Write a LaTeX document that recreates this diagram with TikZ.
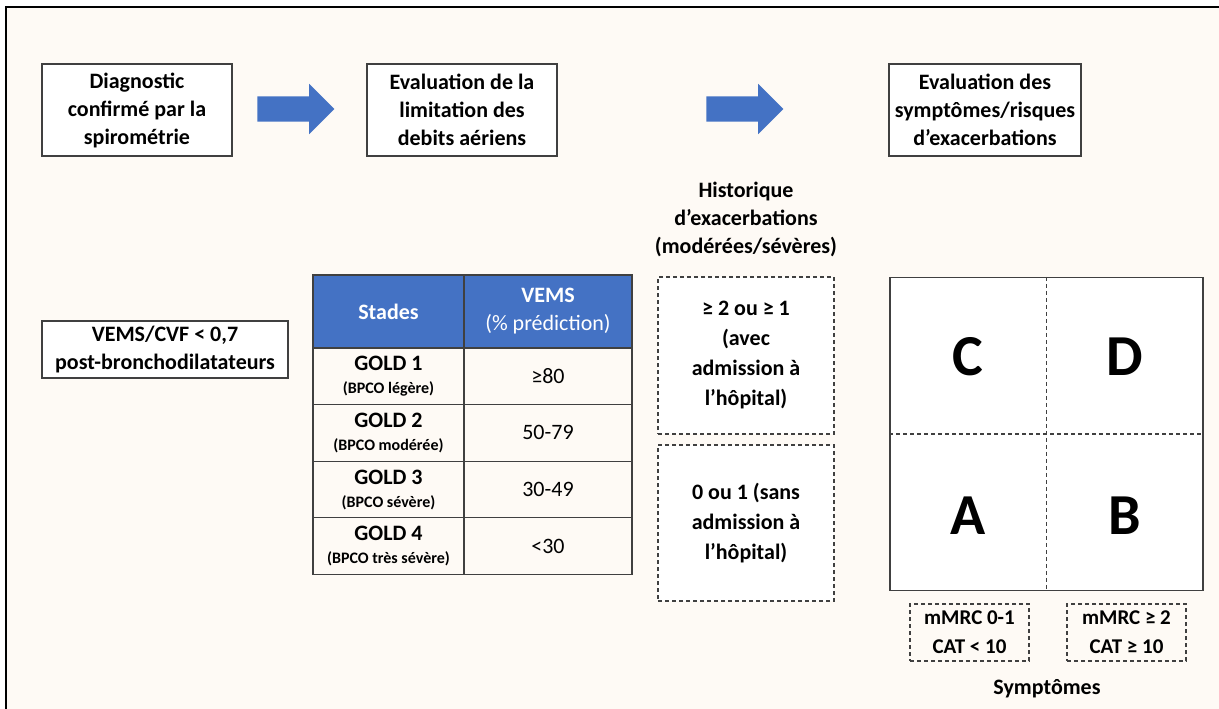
\documentclass[tikz,border=0pt]{standalone}
\usepackage{fontspec}
\setmainfont{Carlito}
\usetikzlibrary{shapes.arrows}
\definecolor{fond}{HTML}{FEFAF5}
\definecolor{bleu}{HTML}{4472C4}
\definecolor{trait}{HTML}{404040}
\begin{document}
\begin{tikzpicture}[x=1pt,y=-1pt]
\def\rowh{56.6}
\def\tabtop{348}
\tikzset{base/.style={draw=trait,line width=1.2pt,fill=white,align=center,inner sep=0pt,
  font=\bfseries\fontsize{22}{28}\selectfont},
etape/.style={base,minimum width=190pt,minimum height=92pt},
pointille/.style={base,dash pattern=on 4pt off 3pt},
fleche/.style={single arrow,fill=bleu,draw=none,minimum height=77pt,inner xsep=0pt,inner ysep=12.5pt,
  single arrow head extend=12.5pt},
cellule/.style={base,fill=fond,font=\fontsize{22}{23}\selectfont},
entete/.style={base,fill=bleu,text=white,font=\fontsize{22}{28}\selectfont},
lettre/.style={font=\bfseries\fontsize{58}{60}\selectfont},
titre/.style={align=center,font=\bfseries\fontsize{22}{28}\selectfont}}
% fond et cadre
\useasboundingbox (0,0) rectangle (1219,709);
\fill[white] (0,0) rectangle (1219,709);
\fill[fond] (6,7) rectangle (1219,709);
\draw[line width=2pt] (6,709) -- (6,7) -- (1219,7);
% etapes
\node[etape] at (137,110) (diag) {Diagnostic\\confirmé par la\\spirométrie};
\node[etape] at (462,110) (limit) {Evaluation de la\\limitation des\\debits aériens};
\node[etape,minimum width=192pt] at (985,110) (sympt) {Evaluation des\\symptômes/risques\\d’exacerbations};
\node[fleche] at (289.5,109) (f1) {};
\node[fleche] at (738.5,109) (f2) {};
\node[base,minimum width=246pt,minimum height=57pt] at (165,349.5) (ratio)
  {VEMS/CVF < 0,7\\post-bronchodilatateurs};
% tableau GOLD
\node[entete,minimum width=151pt,minimum height=73pt] at (388.5,311.5) (hs) {\bfseries Stades};
\node[entete,minimum width=168pt,minimum height=73pt] at (548,311.5) (hv)
  {\textbf{VEMS}\\(\% prédiction)};
\foreach \i/\txt/\val in {1/légère/≥80,2/modérée/50-79,3/sévère/30-49,4/très sévère/<30}{
  \node[cellule,minimum width=151pt,minimum height=\rowh pt] at (388.5,\tabtop+\rowh*\i-\rowh/2) (g\i)
    {\textbf{GOLD \i}\\{\bfseries\fontsize{16}{18}\selectfont(BPCO \txt)}};
  \node[cellule,minimum width=168pt,minimum height=\rowh pt] at (548,\tabtop+\rowh*\i-\rowh/2) (v\i) {\val};
}
% exacerbations
\node[titre] at (746,219) (hist) {Historique\\d’exacerbations\\(modérées/sévères)};
\node[pointille,minimum width=176pt,minimum height=157pt,font=\bfseries\fontsize{22}{30}\selectfont]
  at (746,355.5) (haut) {≥ 2 ou ≥ 1\\(avec\\admission à\\l’hôpital)};
\node[pointille,minimum width=176pt,minimum height=156pt,font=\bfseries\fontsize{22}{30}\selectfont]
  at (746,523) (bas) {0 ou 1 (sans\\admission à\\l’hôpital)};
% grille ABCD
\node[base,minimum width=313pt,minimum height=313pt] at (1046.5,434) (grille) {};
\draw[trait,line width=1.1pt,dash pattern=on 4pt off 3pt] (grille.north) -- (grille.south);
\draw[trait,line width=1.1pt,dash pattern=on 4pt off 3pt] (grille.west) -- (grille.east);
\node[lettre] at (968,357) (C) {C};
\node[lettre] at (1125,357) (D) {D};
\node[lettre] at (968,516) (A) {A};
\node[lettre] at (1125,516) (B) {B};
\node[pointille,fill=none,minimum width=119pt,minimum height=57pt,font=\bfseries\fontsize{21}{29}\selectfont]
  at (969.5,632.5) (m1) {mMRC 0-1\\CAT < 10};
\node[pointille,fill=none,minimum width=119pt,minimum height=57pt,font=\bfseries\fontsize{21}{29}\selectfont]
  at (1126.5,632.5) (m2) {mMRC ≥ 2\\CAT ≥ 10};
\node[titre] at (1047,689) (symp) {Symptômes};
\end{tikzpicture}
\end{document}
